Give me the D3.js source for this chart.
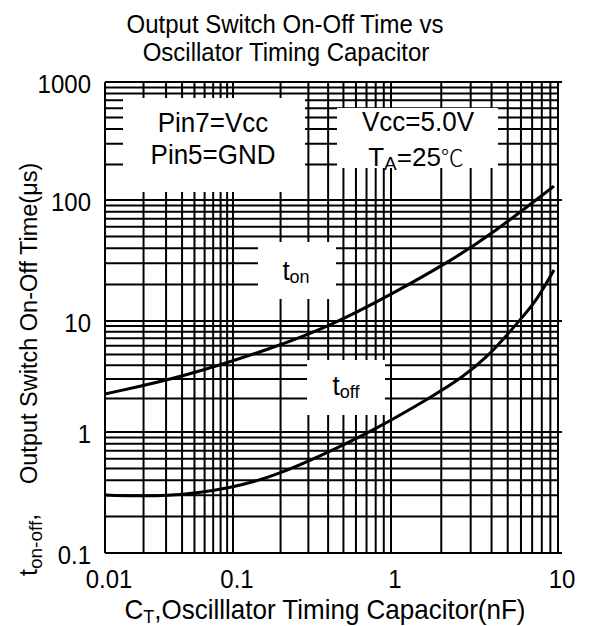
<!DOCTYPE html>
<html>
<head>
<meta charset="utf-8">
<script src="https://cdn.jsdelivr.net/npm/d3@7"></script>
<style>
  body { margin: 0; background: #fff; }
  text { font-family: "Liberation Sans", Arial, sans-serif; fill: #000; }
</style>
</head>
<body>
<div id="app"></div>
<script>
// data
const ctOn = [0.01, 0.041, 0.179, 0.41, 0.99, 2.32, 4.08, 9.46];
const tOn = [2.2, 3.13, 5.7, 9.0, 16.4, 31.9, 53.3, 131];
const ctOff = [0.01, 0.0305, 0.1, 0.19, 0.41, 0.76, 1.79, 2.7, 3.76, 4.95, 5.92, 7.48, 9.46];
const tOff = [0.301, 0.29, 0.344, 0.44, 0.69, 1.02, 2.11, 3.13, 4.74, 7.48, 10.2, 14.9, 26.4];
const xTicks = [0.01, 0.1, 1, 10];
const xTickLabels = ['0.01', '0.1', '1', '10'];
const yTicks = [0.1, 1, 10, 100, 1000];
const yTickLabels = ['0.1', '1', '10', '100', '1000'];

const W = 589, H = 626;
const pLeft = 105, pRight = 558, pTop = 82, pBottom = 553;

// the original grid is a bit uneven, so decades get their own widths
const x = d3.scaleLog().domain([0.01, 0.1, 1, 10]).range([pLeft, 233, 391, pRight]);
const y = d3.scaleLog().domain([0.1, 1, 10, 100, 1000]).range([pBottom, 432, 321, 200, pTop]);

const svg = d3.select('#app').append('svg').attr('width', W).attr('height', H);

// grid lines (every 1..9 step of each decade)
const minor = (lo, hi) => {
  const out = [];
  for (let d = lo; d < hi * 0.999; d *= 10) {
    for (let k = 1; k <= 9; k++) out.push(d * k);
  }
  out.push(hi);
  return out;
};
const grid = svg.append('g').attr('stroke', '#000').attr('stroke-width', 2);
grid.selectAll('.v').data(minor(0.01, 10)).enter().append('line')
    .attr('x1', d => x(d)).attr('x2', d => x(d))
    .attr('y1', pTop).attr('y2', pBottom);
grid.selectAll('.h').data(minor(0.1, 1000)).enter().append('line')
    .attr('y1', d => y(d)).attr('y2', d => y(d))
    .attr('x1', pLeft)
    .attr('x2', d => yTicks.some(t => Math.abs(t - d) / t < 1e-6) ? pRight + 4 : pRight);

// white label boxes over the grid
const boxes = [
  [123, 98, 182, 94],
  [337, 108, 161, 60],
  [258, 242, 78, 57],
  [307, 360, 78, 55]
];
svg.append('g').selectAll('rect').data(boxes).enter().append('rect')
    .attr('x', d => d[0]).attr('y', d => d[1])
    .attr('width', d => d[2]).attr('height', d => d[3])
    .attr('fill', '#fff');

// curves
const line = d3.line().x(d => x(d[0])).y(d => y(d[1])).curve(d3.curveBasis);
svg.append('path').datum(d3.zip(ctOn, tOn))
    .attr('d', line).attr('fill', 'none').attr('stroke', '#000').attr('stroke-width', 3);
svg.append('path').datum(d3.zip(ctOff, tOff))
    .attr('d', line).attr('fill', 'none').attr('stroke', '#000').attr('stroke-width', 3);

// the scanned original is a little taller than wide, text gets a small stretch
const txt = (px, py, size, sy = 1.1) => svg.append('text')
    .attr('transform', `translate(${px},${py}) scale(1,${sy})`)
    .attr('text-anchor', 'middle').attr('font-size', size + 'px');

// tick labels
xTicks.forEach((d, i) => txt(x(d) + 4, 588, 24).text(xTickLabels[i]));
yTicks.forEach((d, i) => txt(91, y(d) + 1, 24).attr('text-anchor', 'end')
    .attr('dy', '0.36em').text(yTickLabels[i]));

// title
txt(285, 33, 24).text('Output Switch On-Off Time vs');
txt(286, 61, 24).text('Oscillator Timing Capacitor');

// axis titles
const xt = txt(325, 619, 26, 1.05);
xt.append('tspan').text('C');
xt.append('tspan').attr('font-size', '18px').attr('dy', 4).text('T');
xt.append('tspan').attr('dy', -4).text(',Oscilllator Timing Capacitor(nF)');

const yt = svg.append('text').attr('transform', 'translate(37,576) rotate(-90)')
    .attr('text-anchor', 'start').attr('font-size', '25px');
yt.append('tspan').text('t');
yt.append('tspan').attr('font-size', '19px').attr('dy', 5).text('on-off');
yt.append('tspan').attr('dy', -5).text(',');
svg.append('text').attr('transform', 'translate(37,484) rotate(-90)')
    .attr('text-anchor', 'start').attr('font-size', '23.5px')
    .text('Output Switch On-Off Time(\u03bcs)');

// labels inside the plot
txt(213, 132, 26, 1.05).text('Pin7=Vcc');
txt(213, 164, 26, 1.05).text('Pin5=GND');
txt(418, 131, 26, 1.05).text('Vcc=5.0V');

const ta = txt(416, 166, 26, 1.0);
ta.append('tspan').text('T');
ta.append('tspan').attr('font-size', '19px').attr('dy', 4).text('A');
ta.append('tspan').attr('dy', -4).text('=25');
ta.append('tspan').style('font-family', '"Noto Sans CJK SC", sans-serif')
    .style('font-weight', 300).attr('font-size', '23px').text('\u2103');

const sub = (px, py, main, s) => {
  const t = txt(px, py, 26, 1.05);
  t.append('tspan').text(main);
  t.append('tspan').attr('font-size', '18px').attr('dy', 3).text(s);
};
sub(296, 280, 't', 'on');
sub(346, 395, 't', 'off');
</script>
</body>
</html>
